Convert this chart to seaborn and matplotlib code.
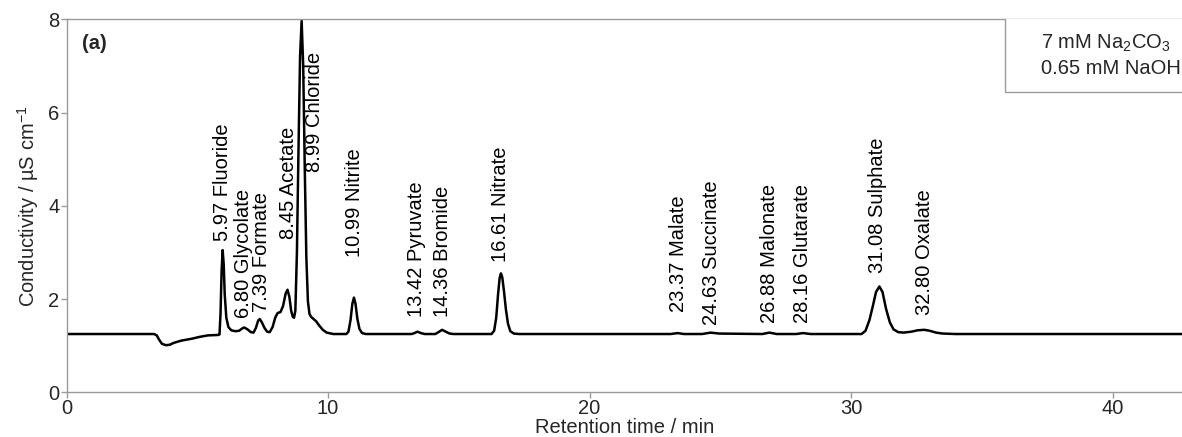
import matplotlib
matplotlib.use("Agg")
import matplotlib.pyplot as plt
from matplotlib.patches import Rectangle
import numpy as np
import pandas as pd
import seaborn as sns

# Identified anions: retention time (min) and apex conductivity (uS/cm)
peak_names = ["Fluoride", "Glycolate", "Formate", "Acetate", "Chloride", "Nitrite",
              "Pyruvate", "Bromide", "Nitrate", "Malate", "Succinate", "Malonate",
              "Glutarate", "Sulphate", "Oxalate"]
peak_times = [5.97, 6.80, 7.39, 8.45, 8.99, 10.99, 13.42, 14.36, 16.61,
              23.37, 24.63, 26.88, 28.16, 31.08, 32.80]
peak_heights = [3.05, 1.39, 1.57, 2.20, 7.97, 2.03, 1.30, 1.34, 2.55,
                1.27, 1.28, 1.28, 1.27, 2.27, 1.34]

# Recorded detector trace between the apexes (time in min, conductivity in uS/cm)
trace_time = [0.0, 3.35, 3.45, 3.55, 3.65, 3.8, 3.95, 4.1, 4.4, 4.8, 5.1, 5.4, 5.8,
              5.85, 5.89, 5.93, 6.01, 6.05, 6.11, 6.19, 6.3, 6.45, 6.6, 6.72,
              6.92, 7.05, 7.15, 7.24, 7.33, 7.47, 7.57, 7.67, 7.77,
              7.88, 7.98, 8.07, 8.18, 8.28, 8.38, 8.52, 8.59, 8.65, 8.70,
              8.75, 8.81, 8.87, 8.93, 9.05, 9.11, 9.17, 9.23, 9.29, 9.35,
              9.45, 9.55, 9.65, 9.8, 9.95, 10.2,
              10.7, 10.78, 10.86, 10.93, 11.05, 11.12, 11.2, 11.3, 11.45,
              13.2, 13.3, 13.55, 13.7, 14.1, 14.25, 14.5, 14.65, 14.8,
              16.25, 16.35, 16.43, 16.5, 16.56, 16.66, 16.72, 16.8, 16.88, 16.97, 17.1, 17.3,
              23.1, 23.6, 24.3, 24.95, 26.6, 27.15, 27.9, 28.45,
              30.4, 30.55, 30.7, 30.83, 30.95, 31.2, 31.33, 31.48, 31.62, 31.8, 32.0,
              32.3, 32.55, 33.0, 33.25, 33.5, 34.0, 42.7]
trace_value = [1.25, 1.25, 1.22, 1.12, 1.04, 1.01, 1.02, 1.06, 1.11, 1.15, 1.19, 1.22, 1.23,
               1.24, 1.70, 2.60, 2.75, 2.10, 1.60, 1.40, 1.33, 1.31, 1.32, 1.37,
               1.35, 1.29, 1.28, 1.38, 1.54, 1.50, 1.38, 1.30, 1.29,
               1.40, 1.60, 1.70, 1.72, 1.85, 2.12, 2.05, 1.75, 1.62, 1.60,
               1.75, 3.00, 5.20, 7.20, 7.00, 4.80, 2.90, 1.95, 1.68, 1.62,
               1.57, 1.52, 1.44, 1.34, 1.28, 1.25,
               1.25, 1.30, 1.55, 1.90, 1.90, 1.58, 1.36, 1.27, 1.25,
               1.25, 1.27, 1.27, 1.25, 1.25, 1.30, 1.30, 1.26, 1.25,
               1.25, 1.32, 1.60, 2.10, 2.45, 2.47, 2.20, 1.78, 1.47, 1.31, 1.26, 1.25,
               1.25, 1.25, 1.25, 1.26, 1.25, 1.25, 1.25, 1.25,
               1.25, 1.32, 1.55, 1.85, 2.15, 2.15, 1.80, 1.50, 1.35, 1.29, 1.28,
               1.30, 1.33, 1.32, 1.28, 1.26, 1.25, 1.25]

# Label anchor (bottom of rotated text) for each peak annotation
label_x = [5.97, 6.78, 7.46, 8.47, 9.49, 11.01, 13.37, 14.38, 16.61,
           23.39, 24.65, 26.88, 28.15, 31.00, 32.79]
label_y = [3.25, 1.59, 1.73, 3.28, 4.73, 2.91, 1.62, 1.62, 2.80,
           1.73, 1.44, 1.48, 1.49, 2.55, 1.66]

eluent_lines = ["7 mM Na$_2$CO$_3$", "0.65 mM NaOH"]

sns.set_theme(style="ticks")
plt.rcParams["font.family"] = ["Liberation Sans", "DejaVu Sans"]
plt.rcParams["mathtext.fontset"] = "custom"
plt.rcParams["mathtext.rm"] = "Liberation Sans"
plt.rcParams["mathtext.it"] = "Liberation Sans:italic"
plt.rcParams["mathtext.bf"] = "Liberation Sans:bold"

df = pd.DataFrame({
    "time": list(trace_time) + list(peak_times),
    "value": list(trace_value) + list(peak_heights),
}).sort_values("time")

fig = plt.figure(figsize=(11.82, 4.37), dpi=100)
ax = fig.add_axes([66.5 / 1182, (437 - 392.3) / 437, 1 - 66.5 / 1182, 373 / 437])

sns.lineplot(data=df, x="time", y="value", color="black", linewidth=1.8,
             estimator=None, ax=ax)

fs = 14.5
for name, t, lx, ly in zip(peak_names, peak_times, label_x, label_y):
    ax.text(lx, ly, f"{t:.2f} {name}", rotation=90, ha="center", va="bottom",
            fontsize=fs, color="black")

ax.set_xlim(0, 42.65)
ax.set_ylim(0, 8)
ax.set_xticks([0, 10, 20, 30, 40])
ax.set_yticks([0, 2, 4, 6, 8])
ax.set_xlabel("Retention time / min", fontsize=fs, labelpad=0)
ax.set_ylabel("Conductivity / µS cm$^{-1}$", fontsize=fs, labelpad=5)
ax.tick_params(axis="both", labelsize=fs, length=4, width=1, color="#9a9a9a",
               direction="out", pad=1)

spine_color = "#9a9a9a"
for side in ["left", "bottom", "top"]:
    ax.spines[side].set_color(spine_color)
    ax.spines[side].set_linewidth(1.0)
ax.spines["right"].set_visible(False)

ax.text(0.0136, 0.936, "(a)", transform=ax.transAxes, fontsize=fs,
        fontweight="bold", ha="left", va="center")

box = Rectangle((0.8413, 0.804), 0.3, 0.3, transform=ax.transAxes,
                facecolor="white", edgecolor=spine_color, linewidth=1.0,
                clip_on=True, zorder=3)
ax.add_patch(box)
ax.text(0.874, 0.936, eluent_lines[0], transform=ax.transAxes, fontsize=fs,
        ha="left", va="center", zorder=4)
ax.text(0.874, 0.869, eluent_lines[1], transform=ax.transAxes, fontsize=fs,
        ha="left", va="center", zorder=4)

fig.savefig("out.png", dpi=100)
